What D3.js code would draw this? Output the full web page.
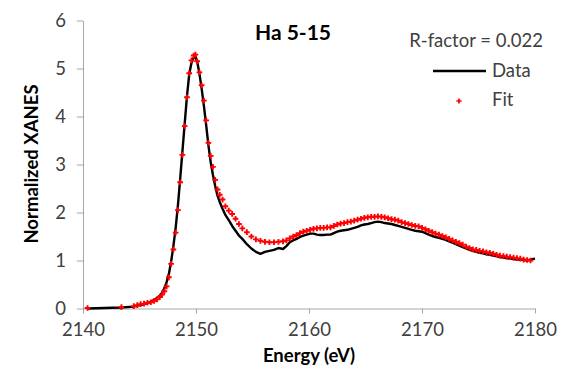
<!DOCTYPE html>
<html>
<head>
<meta charset="utf-8">
<script src="https://cdn.jsdelivr.net/npm/d3@7"></script>
<style>
  body { margin: 0; background: #fff; }
  svg text { font-family: Lato, "Open Sans", sans-serif; }
</style>
</head>
<body>
<div id="chart"></div>
<script>
// Energy grid (eV)
var energy = [
  2140.4, 2143.4, 2144.5, 2144.8, 2145.1, 2145.4, 2145.7, 2146.0, 2146.3, 2146.55,
  2146.8, 2147.0, 2147.2, 2147.4, 2147.6, 2147.8, 2148.0, 2148.2, 2148.4, 2148.6,
  2148.8, 2149.0, 2149.2, 2149.4, 2149.6, 2149.8, 2149.95, 2150.1, 2150.3, 2150.5,
  2150.7, 2150.9, 2151.1, 2151.3, 2151.5, 2151.7, 2151.9, 2152.1, 2152.35, 2152.6,
  2152.9, 2153.2, 2153.5, 2153.8, 2154.1, 2154.5, 2154.9, 2155.3, 2155.7, 2156.1,
  2156.5, 2156.9, 2157.3, 2157.7, 2158.0, 2158.3, 2158.6, 2158.9, 2159.2, 2159.5,
  2159.8, 2160.1, 2160.4, 2160.7, 2161.0, 2161.3, 2161.6, 2161.9, 2162.2, 2162.5,
  2162.8, 2163.1, 2163.4, 2163.7, 2164.0, 2164.3, 2164.6, 2164.9, 2165.2, 2165.5,
  2165.8, 2166.1, 2166.4, 2166.7, 2167.0, 2167.3, 2167.6, 2167.9, 2168.2, 2168.5,
  2168.8, 2169.1, 2169.4, 2169.7, 2170.0, 2170.3, 2170.6, 2170.9, 2171.2, 2171.5,
  2171.8, 2172.1, 2172.4, 2172.7, 2173.0, 2173.3, 2173.6, 2173.9, 2174.2, 2174.5,
  2174.8, 2175.1, 2175.4, 2175.7, 2176.0, 2176.3, 2176.6, 2176.9, 2177.2, 2177.5,
  2177.8, 2178.1, 2178.4, 2178.7, 2179.0, 2179.3, 2179.6, 2180.0
];

// Measured spectrum (black line)
var dataValues = [
  0.00, 0.02, 0.04, 0.06, 0.07, 0.09, 0.11, 0.14, 0.18, 0.22,
  0.27, 0.33, 0.42, 0.55, 0.72, 0.98, 1.30, 1.68, 2.15, 2.70,
  3.28, 3.85, 4.42, 4.88, 5.12, 5.23, 5.25, 5.15, 4.90, 4.58,
  4.22, 3.82, 3.40, 3.05, 2.78, 2.55, 2.35, 2.22, 2.08, 1.95,
  1.84, 1.72, 1.62, 1.52, 1.45, 1.34, 1.25, 1.18, 1.14, 1.18,
  1.20, 1.22, 1.26, 1.24, 1.30, 1.38, 1.42, 1.45, 1.49, 1.52,
  1.54, 1.56, 1.56, 1.54, 1.53, 1.53, 1.54, 1.54, 1.57, 1.60,
  1.62, 1.63, 1.64, 1.66, 1.68, 1.70, 1.73, 1.75, 1.76, 1.78,
  1.80, 1.81, 1.80, 1.78, 1.77, 1.76, 1.74, 1.72, 1.70, 1.68,
  1.66, 1.64, 1.62, 1.61, 1.60, 1.57, 1.54, 1.51, 1.49, 1.47,
  1.45, 1.43, 1.40, 1.37, 1.34, 1.31, 1.28, 1.25, 1.22, 1.20,
  1.18, 1.16, 1.15, 1.13, 1.12, 1.10, 1.09, 1.07, 1.06, 1.05,
  1.04, 1.03, 1.02, 1.02, 1.01, 1.00, 1.02, 1.04
];

// Linear combination fit (red markers), null = no marker
var fitValues = [
  0.01, 0.03, 0.05, 0.07, 0.09, 0.10, 0.12, 0.13, 0.16, 0.19,
  0.24, 0.29, 0.36, 0.46, 0.65, 0.93, 1.23, 1.58, 2.05, 2.63,
  3.20, 3.80, 4.40, 4.90, 5.17, 5.27, 5.29, 5.15, 4.92, 4.65,
  4.33, 3.92, 3.45, 3.18, 2.95, 2.68, 2.48, 2.37, 2.27, 2.13,
  2.04, 1.97, 1.87, 1.76, 1.67, 1.59, 1.50, 1.44, 1.41, 1.39,
  1.38, 1.38, 1.39, 1.40, 1.42, 1.46, 1.50, 1.53, 1.57, 1.60,
  1.62, 1.64, 1.66, 1.67, 1.68, 1.68, 1.69, 1.69, 1.72, 1.75,
  1.77, 1.78, 1.80, 1.81, 1.83, 1.85, 1.87, 1.89, 1.90, 1.91,
  1.91, 1.92, 1.91, 1.90, 1.88, 1.86, 1.85, 1.83, 1.80, 1.78,
  1.76, 1.74, 1.72, 1.71, 1.68, 1.65, 1.62, 1.59, 1.56, 1.54,
  1.51, 1.48, 1.45, 1.42, 1.39, 1.36, 1.33, 1.29, 1.26, 1.23,
  1.22, 1.20, 1.19, 1.17, 1.16, 1.14, 1.12, 1.10, 1.09, 1.08,
  1.07, 1.06, 1.05, 1.04, 1.02, 1.01, 1.00, null
];

var xTicks = [2140, 2150, 2160, 2170, 2180];
var yTicks = [0, 1, 2, 3, 4, 5, 6];

var title = "Ha 5-15";
var rFactorLabel = "R-factor = 0.022";
var seriesNames = ["Data", "Fit"];

var width = 570, height = 371;
var margin = { top: 20.5, right: 35, bottom: 62.5, left: 83 };

var svg = d3.select("#chart")
  .append("svg")
  .attr("width", width)
  .attr("height", height);

var x = d3.scaleLinear()
  .domain([2140, 2180])
  .range([margin.left, width - margin.right]);

var y = d3.scaleLinear()
  .domain([0, 6])
  .range([height - margin.bottom, margin.top]);

var axisColor = "#a6a6a6";
var textColor = "#404040";

// X axis
var xAxis = svg.append("g")
  .attr("transform", "translate(0," + y(0) + ")")
  .call(d3.axisBottom(x).tickValues(xTicks).tickSize(5).tickPadding(9).tickSizeOuter(0).tickFormat(d3.format("d")));

// Y axis
var yAxis = svg.append("g")
  .attr("transform", "translate(" + x(2140) + ",0)")
  .call(d3.axisLeft(y).tickValues(yTicks).tickSize(6).tickPadding(11).tickSizeOuter(0).tickFormat(d3.format("d")));

[xAxis, yAxis].forEach(function (g) {
  g.selectAll("path, line").attr("stroke", axisColor).attr("stroke-width", 1);
  g.selectAll("text")
    .attr("fill", textColor)
    .style("font-size", "18.5px");
});

// Axis titles
svg.append("text")
  .attr("x", 309)
  .attr("y", 362)
  .attr("text-anchor", "middle")
  .style("font-size", "18.5px")
  .style("font-weight", "bold")
  .attr("fill", "#000")
  .text("Energy (eV)");

svg.append("text")
  .attr("transform", "translate(38,164) rotate(-90)")
  .attr("text-anchor", "middle")
  .style("font-size", "18.5px")
  .style("font-weight", "bold")
  .attr("fill", "#000")
  .text("Normalized XANES");

// Chart title
svg.append("text")
  .attr("x", 293)
  .attr("y", 40)
  .attr("text-anchor", "middle")
  .style("font-size", "21px")
  .style("font-weight", "bold")
  .attr("fill", "#000")
  .text(title);

var points = energy.map(function (e, i) {
  return { e: e, data: dataValues[i], fit: fitValues[i] };
});

// Data line
var line = d3.line()
  .x(function (d) { return x(d.e); })
  .y(function (d) { return y(d.data); });

svg.append("path")
  .datum(points)
  .attr("fill", "none")
  .attr("stroke", "#000")
  .attr("stroke-width", 2.4)
  .attr("stroke-linejoin", "round")
  .attr("d", line);

// Fit markers
var cross = d3.symbol().type(d3.symbolCross).size(18);

svg.append("g")
  .selectAll("path")
  .data(points.filter(function (d) { return d.fit !== null; }))
  .enter()
  .append("path")
  .attr("d", cross)
  .attr("transform", function (d) { return "translate(" + x(d.e) + "," + y(d.fit) + ")"; })
  .attr("fill", "#ff0000");

// Legend
var legend = svg.append("g");

legend.append("text")
  .attr("x", 543)
  .attr("y", 47)
  .attr("text-anchor", "end")
  .style("font-size", "18.5px")
  .attr("fill", textColor)
  .text(rFactorLabel);

legend.append("line")
  .attr("x1", 433).attr("x2", 486)
  .attr("y1", 71).attr("y2", 71)
  .attr("stroke", "#000")
  .attr("stroke-width", 2.4);

legend.append("text")
  .attr("x", 492)
  .attr("y", 77)
  .style("font-size", "18.5px")
  .attr("fill", textColor)
  .text(seriesNames[0]);

legend.append("path")
  .attr("d", d3.symbol().type(d3.symbolCross).size(15))
  .attr("transform", "translate(459,101)")
  .attr("fill", "#ff0000");

legend.append("text")
  .attr("x", 492)
  .attr("y", 106)
  .style("font-size", "18.5px")
  .attr("fill", textColor)
  .text(seriesNames[1]);
</script>
</body>
</html>
